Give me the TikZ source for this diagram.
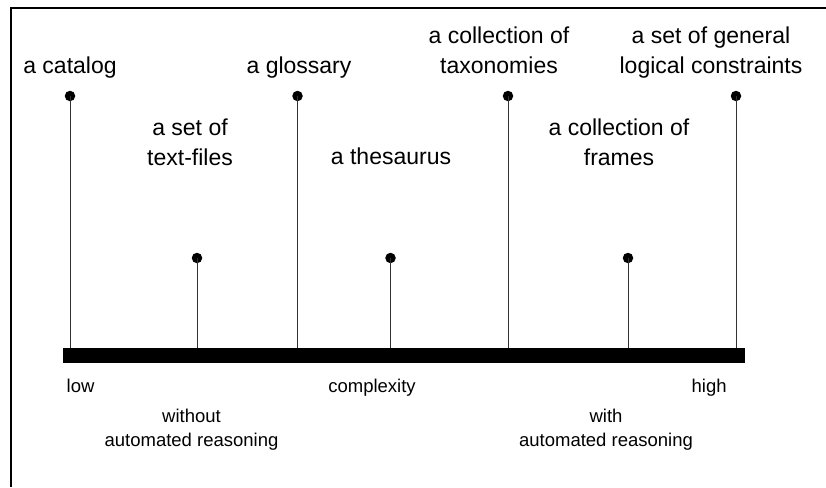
\documentclass[tikz,border=0pt]{standalone}
\usepackage{fontspec}
\setmainfont{Liberation Sans}
\begin{document}
\begin{tikzpicture}[x=1pt,y=-1pt,
  bigtext/.style={align=center,anchor=base,inner sep=0pt,font=\fontsize{23}{29.5}\selectfont},
  smalltext/.style={align=center,anchor=base,inner sep=0pt,font=\fontsize{18.5}{23.5}\selectfont},
  dot/.style={circle,fill=black,inner sep=0pt,minimum size=10.5pt},
  stem/.style={draw=black!80,line width=1pt},
  axis/.style={fill=black,inner sep=0pt,minimum width=682pt,minimum height=14.5pt}]
\useasboundingbox (0,0) rectangle (826,487);
% frame (only the top and left edges fall inside the page)
\draw[line width=1.3pt] (11,487) -- (11,8) -- (826,8);
% complexity axis
\node[axis] (bar) at (404,355.5) {};
% knowledge organisation systems: dot on a stem
\node[dot] (catalog)    at (70,96)   {};
\node[dot] (textfiles)  at (197,258) {};
\node[dot] (glossary)   at (297.5,96) {};
\node[dot] (thesaurus)  at (390.5,258) {};
\node[dot] (taxonomies) at (508,96)  {};
\node[dot] (frames)     at (628,258) {};
\node[dot] (logical)    at (736,96)  {};
\foreach \n in {catalog,textfiles,glossary,thesaurus,taxonomies,frames,logical}
  \draw[stem] (\n.center) -- (\n.center |- bar.north);
% labels above the stems (base = baseline of the last line)
\node[bigtext] (l-catalog)    at (70,73.5)   {a catalog};
\node[bigtext] (l-textfiles)  at (190,165)   {a set of\\text-files};
\node[bigtext] (l-glossary)   at (299,73.5)  {a glossary};
\node[bigtext] (l-thesaurus)  at (391,164)   {a thesaurus};
\node[bigtext] (l-taxonomies) at (499,73)    {a collection of\\taxonomies};
\node[bigtext] (l-frames)     at (619,165)   {a collection of\\frames};
\node[bigtext] (l-logical)    at (711,73)    {a set of general\\logical constraints};
% labels below the axis
\node[smalltext,anchor=base west] (low) at (66.5,392) {low};
\node[smalltext] (complexity) at (372,392) {complexity};
\node[smalltext,anchor=base west] (high) at (691.5,392.5) {high};
\node[smalltext] (without) at (191.5,446) {without\\automated reasoning};
\node[smalltext] (with)    at (606,446)   {with\\automated reasoning};
\end{tikzpicture}
\end{document}
